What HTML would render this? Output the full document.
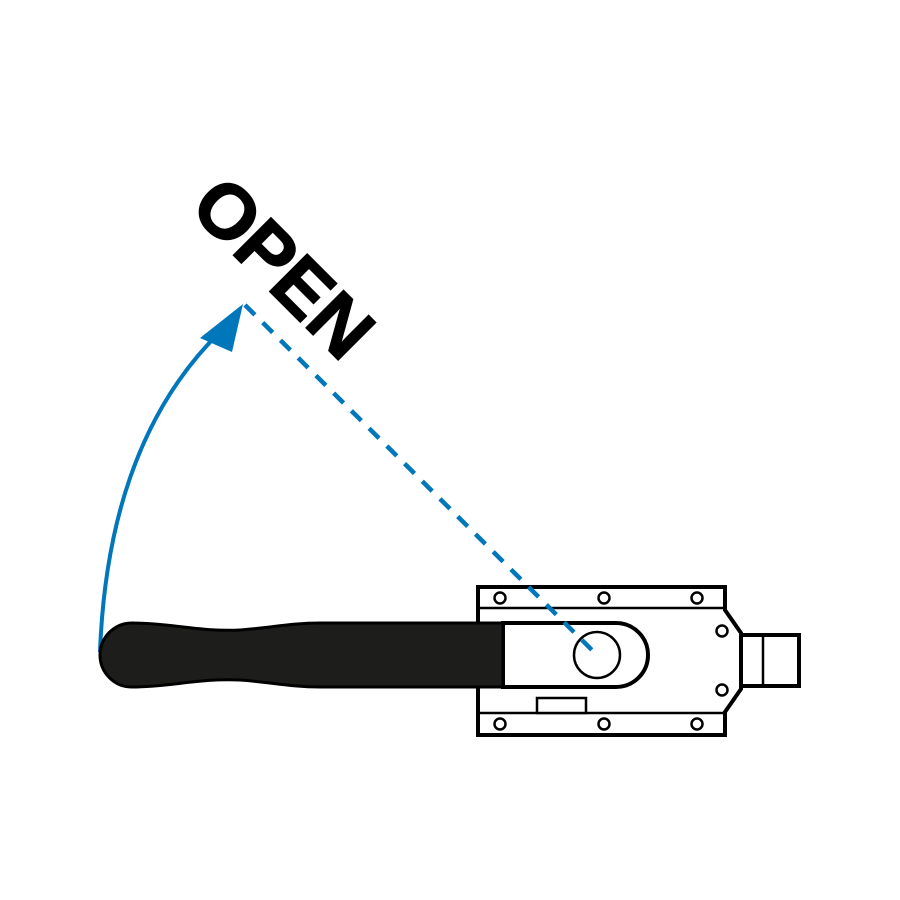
<!DOCTYPE html>
<html><head><style>body{margin:0;background:#fff}svg{display:block}</style></head><body>
<svg width="900" height="900" viewBox="0 0 900 900" xmlns="http://www.w3.org/2000/svg">
<rect width="900" height="900" fill="#fff"/>
<text x="0" y="0" transform="translate(283,268) rotate(45)" text-anchor="middle" dominant-baseline="central" font-family="Liberation Sans, sans-serif" font-weight="bold" font-size="77" fill="#000" stroke="#000" stroke-width="1.5">OPEN</text>
<path d="M100,652 Q108,440 222,330" fill="none" stroke="#0077bb" stroke-width="4"/>
<polygon points="243,304 200,338 232,352" fill="#0077bb"/>
<!-- plate -->
<path d="M478,587 H725 V610 L741,633 V689 L725,712 V735 H478 Z" fill="#fff" stroke="#000" stroke-width="4"/>
<line x1="478" y1="608" x2="727" y2="608" stroke="#000" stroke-width="2.5"/>
<line x1="478" y1="713" x2="727" y2="713" stroke="#000" stroke-width="2.5"/>
<rect x="537" y="698" width="49" height="15" fill="#fff" stroke="#000" stroke-width="2.5"/>
<g fill="#fff" stroke="#000" stroke-width="2.5">
<circle cx="500" cy="598" r="5.5"/><circle cx="604" cy="598" r="5.5"/><circle cx="697" cy="598" r="5.5"/>
<circle cx="500" cy="724" r="5.5"/><circle cx="604" cy="724" r="5.5"/><circle cx="697" cy="724" r="5.5"/>
<circle cx="722" cy="631" r="5.5"/><circle cx="722" cy="690" r="5.5"/>
</g>
<rect x="741" y="635" width="58" height="51" fill="#fff" stroke="#000" stroke-width="4"/>
<line x1="763" y1="635" x2="763" y2="686" stroke="#000" stroke-width="2.5"/>
<!-- slot -->
<path d="M503,623 H616 A32,32 0 0 1 616,687 H503 Z" fill="#fff" stroke="#000" stroke-width="4"/>
<circle cx="597" cy="655" r="23" fill="none" stroke="#000" stroke-width="2.5"/>
<line x1="245" y1="305" x2="597" y2="655" stroke="#0077bb" stroke-width="4.5" stroke-dasharray="14,11"/>
<!-- handle -->
<path d="M132,623 C170,623 200,632 240,630 C270,628 290,623 320,623 H503 V687 H320 C290,687 270,682 240,680 C200,678 170,687 132,687 A32,32 0 0 1 132,623 Z" fill="#1d1d1b" stroke="#000" stroke-width="3"/>
</svg>
</body></html>
